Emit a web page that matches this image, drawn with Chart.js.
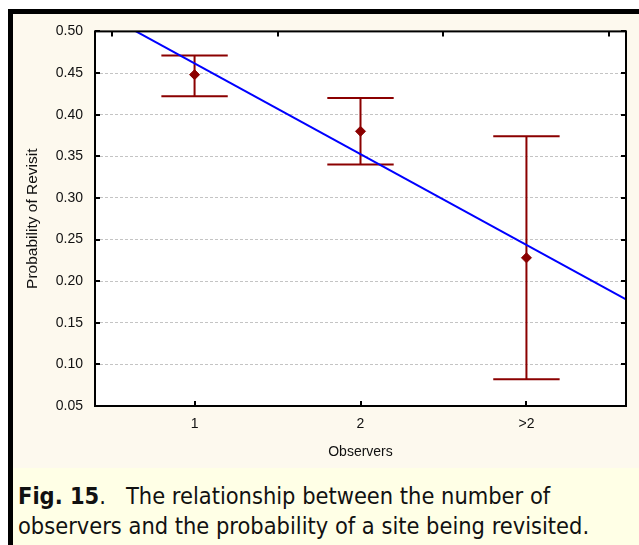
<!DOCTYPE html>
<html lang="en">
<head>
<meta charset="UTF-8" />
<title>Fig. 15 - Probability of Revisit</title>
<script src="https://cdn.jsdelivr.net/npm/chart.js"></script>
<style>
  html, body { margin: 0; padding: 0; background: #fff; }
  #page { position: relative; width: 639px; height: 545px; overflow: hidden; }
  #cream { position: absolute; left: 13px; top: 14px; width: 626px; height: 454px; background: #fdf9ee; }
  #chartBox { position: absolute; left: 13px; top: 11px; width: 626px; height: 457px; }
  #frameTop { position: absolute; left: 8px; top: 9px; width: 631px; height: 5px; background: #000; }
  #frameLeft { position: absolute; left: 8px; top: 9px; width: 5px; height: 536px; background: #000; }
  #caption {
    position: absolute; left: 13px; top: 468px; width: 626px; height: 77px;
    background: #ffffe6; color: #111;
    font-family: "DejaVu Sans Condensed", "DejaVu Sans", sans-serif; font-size: 23.4px; line-height: 30px;
    padding: 13px 0 0 5px; box-sizing: border-box; white-space: nowrap;
  }
</style>
</head>
<body>
<div id="page">
  <div id="cream"></div>
  <div id="chartBox"><canvas id="chart"></canvas></div>
  <div id="frameTop"></div>
  <div id="frameLeft"></div>
  <div id="caption"><b>Fig. 15</b>.&nbsp;&nbsp; The relationship between the number of<br>observers and the probability of a site being revisited.</div>
</div>

<script>
// category positions and labels on the x axis
const xLabels = ['1', '2', '>2'];
const xPos = [1, 2, 3];
// means with upper / lower limits
const means = [0.448, 0.380, 0.228];
const upper = [0.471, 0.420, 0.374];
const lower = [0.422, 0.340, 0.082];
// fitted line end points
const fitX = [0.4, 3.6];
const fitY = [0.527, 0.178];
// y ticks
const yTicks = [0.05, 0.10, 0.15, 0.20, 0.25, 0.30, 0.35, 0.40, 0.45, 0.50];
// small ticks on the top border
const topTickPos = [0.5, 1.5, 2.5, 3.5];

const RED = '#8b0000';
const CAP = 0.2;

const errorBars = {
  id: 'errorBars',
  beforeDatasetsDraw(chart) {
    const { ctx, scales: { x, y } } = chart;
    ctx.save();
    ctx.strokeStyle = RED;
    ctx.lineWidth = 2;
    xPos.forEach((p, i) => {
      const px = x.getPixelForValue(p);
      const yHi = y.getPixelForValue(upper[i]);
      const yLo = y.getPixelForValue(lower[i]);
      const l = x.getPixelForValue(p - CAP), r = x.getPixelForValue(p + CAP);
      ctx.beginPath();
      ctx.moveTo(px, yHi); ctx.lineTo(px, yLo);
      ctx.moveTo(l, yHi); ctx.lineTo(r, yHi);
      ctx.moveTo(l, yLo); ctx.lineTo(r, yLo);
      ctx.stroke();
    });
    ctx.restore();
  }
};

const plotFrame = {
  id: 'plotFrame',
  beforeDraw(chart) {
    const { ctx, chartArea: a } = chart;
    ctx.save();
    ctx.fillStyle = '#fff';
    ctx.fillRect(a.left, a.top, a.right - a.left, a.bottom - a.top);
    ctx.restore();
  },
  afterDraw(chart) {
    const { ctx, chartArea: a, scales: { x, y } } = chart;
    ctx.save();
    ctx.strokeStyle = '#000';
    ctx.lineWidth = 2;
    ctx.strokeRect(a.left, a.top, a.right - a.left, a.bottom - a.top);
    ctx.beginPath();
    yTicks.forEach(v => {
      const py = Math.round(y.getPixelForValue(v));
      ctx.moveTo(a.left, py); ctx.lineTo(a.left + 5, py);
      ctx.moveTo(a.right, py); ctx.lineTo(a.right - 5, py);
    });
    xPos.forEach(v => {
      const px = Math.round(x.getPixelForValue(v));
      ctx.moveTo(px, a.bottom); ctx.lineTo(px, a.bottom - 5);
    });
    topTickPos.forEach(v => {
      const px = Math.round(x.getPixelForValue(v));
      ctx.moveTo(px, a.top); ctx.lineTo(px, a.top + 5);
    });
    ctx.stroke();
    ctx.restore();
  }
};

new Chart(document.getElementById('chart'), {
  type: 'scatter',
  data: {
    datasets: [
      {
        type: 'line',
        data: fitX.map((v, i) => ({ x: v, y: fitY[i] })),
        borderColor: '#0000ff',
        borderWidth: 2,
        pointRadius: 0,
        fill: false
      },
      {
        data: xPos.map((v, i) => ({ x: v, y: means[i] })),
        pointStyle: 'rectRot',
        pointRadius: 5,
        backgroundColor: RED,
        borderColor: RED,
        borderWidth: 1
      }
    ]
  },
  options: {
    responsive: true,
    maintainAspectRatio: false,
    animation: false,
    layout: { padding: { top: 14, right: 13, left: 0, bottom: 0 } },
    plugins: { legend: { display: false }, tooltip: { enabled: false } },
    scales: {
      x: {
        type: 'linear',
        min: 0.4, max: 3.6,
        afterBuildTicks: s => { s.ticks = xPos.map(v => ({ value: v })); },
        afterFit: s => { s.height = 62; },
        grid: { display: false, drawTicks: false },
        border: { display: false },
        ticks: {
          padding: 10,
          color: '#111',
          font: { family: 'Liberation Sans, Arial, sans-serif', size: 14 },
          callback: v => xLabels[xPos.indexOf(v)]
        },
        title: {
          display: true, text: 'Observers', color: '#111',
          font: { family: 'Liberation Sans, Arial, sans-serif', size: 14 },
          padding: { top: 0, bottom: 7 }
        }
      },
      y: {
        min: 0.05, max: 0.50,
        afterBuildTicks: s => { s.ticks = yTicks.map(v => ({ value: v })); },
        afterFit: s => { s.width = 82; },
        grid: {
          drawTicks: false,
          color: c => (c.tick && (c.tick.value <= 0.05 || c.tick.value >= 0.5)) ? 'rgba(0,0,0,0)' : '#c4c4c4',
          lineWidth: 1
        },
        border: { display: false, dash: [3, 2] },
        ticks: {
          padding: 12,
          color: '#111',
          font: { family: 'Liberation Sans, Arial, sans-serif', size: 14 },
          callback: v => v.toFixed(2)
        },
        title: {
          display: true, text: 'Probability of Revisit', color: '#111',
          font: { family: 'Liberation Sans, Arial, sans-serif', size: 15.5 },
          padding: { top: 10, bottom: 0 }
        }
      }
    }
  },
  plugins: [plotFrame, errorBars]
});
</script>
</body>
</html>
